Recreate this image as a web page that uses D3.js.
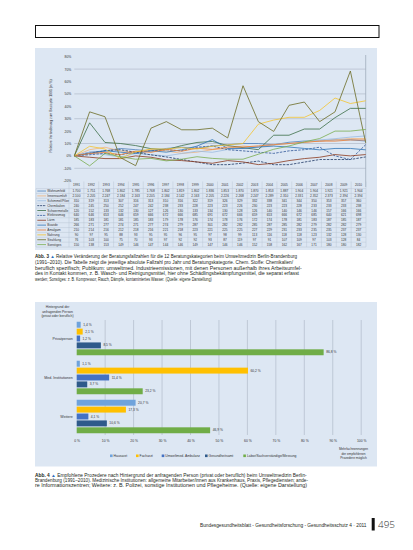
<!DOCTYPE html>
<html>
<head>
<meta charset="utf-8">
<script src="https://cdn.jsdelivr.net/npm/d3@7"></script>
<style>
  body { margin: 0; background: #fff; }
  svg { display: block; font-family: "Liberation Sans Narrow", "Liberation Sans", Arial, sans-serif; }
</style>
</head>
<body>
<script>
// ---- data: Abb. 3 (Fallzahlen je Beratungskategorie und Jahr)
const years = [1991, 1992, 1993, 1994, 1995, 1996, 1997, 1998, 1999, 2000,
               2001, 2002, 2003, 2004, 2005, 2006, 2007, 2008, 2009, 2010];

const categories = ['Wohnumfeld', 'Innenraumluft', 'Schimmel/Pilze', 'Chemikalien', 'Schwermetalle', 'Elektrosmog',
                    'Lärm', 'Biozide', 'Amalgam', 'Nahrung', 'Strahlung', 'Sonstiges'];

const wohnumfeld   = [1700, 1751, 1768, 1802, 1785, 1768, 1802, 1819, 1802, 1836, 1853, 1870, 1870, 1853, 1887, 1904, 1904, 1921, 1921, 1904];
const innenraum    = [2100, 2205, 2247, 2184, 2163, 2205, 2184, 2142, 2163, 2205, 2226, 2268, 2247, 2289, 2310, 2331, 2352, 2373, 2394, 2394];
const schimmel     = [310, 319, 313, 307, 316, 313, 310, 316, 322, 319, 326, 329, 332, 338, 341, 344, 350, 353, 357, 360];
const chemikalien  = [240, 245, 250, 252, 247, 242, 238, 233, 228, 223, 223, 226, 230, 223, 223, 228, 233, 233, 233, 238];
const schwermetall = [120, 152, 133, 132, 130, 127, 126, 130, 133, 134, 130, 128, 126, 140, 140, 146, 146, 157, 166, 166];
const elektrosmog  = [640, 646, 653, 646, 659, 666, 672, 666, 685, 691, 672, 666, 659, 653, 666, 672, 685, 640, 621, 698];
const laerm        = [185, 183, 181, 181, 185, 183, 179, 178, 176, 174, 178, 176, 172, 174, 178, 181, 183, 187, 185, 187];
const biozide      = [266, 271, 277, 274, 271, 277, 274, 279, 287, 301, 282, 282, 285, 287, 285, 282, 279, 282, 282, 279];
const amalgam      = [210, 214, 216, 212, 218, 216, 221, 218, 223, 221, 225, 225, 227, 229, 231, 233, 235, 235, 237, 237];
const nahrung      = [90, 97, 95, 88, 93, 95, 95, 96, 95, 97, 98, 99, 113, 116, 118, 118, 123, 132, 128, 130];
const strahlung    = [76, 103, 100, 75, 70, 93, 97, 92, 92, 93, 87, 119, 97, 91, 107, 109, 97, 103, 128, 84];
const sonstiges    = [150, 138, 153, 149, 146, 147, 144, 146, 149, 147, 146, 146, 152, 158, 162, 167, 171, 180, 180, 182];

const counts = [wohnumfeld, innenraum, schimmel, chemikalien, schwermetall, elektrosmog,
                laerm, biozide, amalgam, nahrung, strahlung, sonstiges];
const lineColors = ['#4f81bd', '#f0b47c', '#9bbbe0', '#1f3864', '#3c6e47', '#2f5597',
                    '#8b3a1e', '#2e75b6', '#ed7d31', '#f4c430', '#6b6b23', '#7aad4f'];
const dashed = [false, false, false, true, false, true, false, false, false, false, false, false];

const yTicks = [-20, -10, 0, 10, 20, 30, 40, 50, 60, 70, 80];
const yGrid = [-10, 10, 30, 50, 70];

// ---- data: Abb. 4 (empfohlenes Prozedere nach Hintergrund)
const groups = ['Privatperson', 'Med. Institutionen', 'Weitere'];
const procedures = ['Hausarzt', 'Facharzt', 'Umweltmed. Ambulanz', 'Gesundheitsamt', 'Labor/Sachverständige/Messung'];
const hausarzt   = [1.4, 1.1, 20.7];
const facharzt   = [2.1, 60.2, 17.3];
const ambulanz   = [1.2, 11.4, 4.1];
const gesundamt  = [8.5, 3.7, 10.6];
const labor      = [86.8, 23.2, 46.9];
const procValues = [hausarzt, facharzt, ambulanz, gesundamt, labor];
const barColors = ['#6fa3dc', '#ffc000', '#4472c4', '#2e5a8a', '#70ad47'];
const xTicks = [0, 10, 20, 30, 40, 50, 60, 70, 80, 90, 100];

const caption3 = [
  'Relative Veränderung der Beratungsfallzahlen für die 12 Beratungskategorien beim Umweltmedizin Berlin-Brandenburg',
  '(1991–2010). Die Tabelle zeigt die jeweilige absolute Fallzahl pro Jahr und Beratungskategorie. Chem. Stoffe: Chemikalien/',
  'beruflich spezifisch; Publikum: umweltmed. Industrieemissionen, mit denen Personen außerhalb ihres Arbeitsumfel-',
  'des in Kontakt kommen, z. B. Wasch- und Reinigungsmittel, hier ohne Schädlingsbekämpfungsmittel, die separat erfasst',
  'werden; Sonstiges: z. B. Kompressor, Rauch, Dämpfe, kontaminiertes Wasser. (Quelle: eigene Darstellung)'
];
const caption4 = [
  'Empfohlene Prozedere nach Hintergrund der anfragenden Person (privat oder beruflich) beim Umweltmedizin Berlin-',
  'Brandenburg (1991–2010). Medizinische Institutionen: allgemeine Mitarbeiter/innen aus Krankenhaus, Praxis, Pflegediensten; ande-',
  're Informationszentren; Weitere: z. B. Polizei, sonstige Institutionen und Pflegeheime. (Quelle: eigene Darstellung)'
];

const de = d3.formatLocale({ decimal: ',', thousands: '.', grouping: [3], currency: ['', ' €'] });
const fmtInt = de.format(',d');
const fmtPct = de.format('.1f');

const W = 413, H = 550;
const svg = d3.select('body').append('svg').attr('width', W).attr('height', H);

// kopfzeilen-box
svg.append('rect')
  .attr('x', 35.5).attr('y', 25.5).attr('width', 343.5).attr('height', 12)
  .attr('fill', 'none').attr('stroke', '#111').attr('stroke-width', 1);

// =================== Abb. 3 ===================
svg.append('rect').attr('x', 35).attr('y', 48).attr('width', 342).attr('height', 202).attr('fill', '#dde7f3');

const x = d3.scalePoint().domain(years).range([74.3, 365.7]);
const y = d3.scaleLinear().domain([-20, 80]).range([180.7, 56.7]);

svg.append('g').selectAll('line').data(yGrid).join('line')
  .attr('x1', 74.3).attr('x2', 365.7)
  .attr('y1', d => y(d)).attr('y2', d => y(d))
  .attr('stroke', '#a9b4c2').attr('stroke-width', 0.6);

svg.append('line')
  .attr('x1', 365.7).attr('x2', 365.7).attr('y1', 55).attr('y2', 187)
  .attr('stroke', '#9aa5b4').attr('stroke-width', 0.7);

const yAxis = svg.append('g')
  .attr('transform', 'translate(74.3,0)')
  .call(d3.axisLeft(y).tickValues(yTicks).tickSize(0).tickPadding(3).tickFormat(d => d + '%'));
yAxis.select('.domain').remove();
yAxis.selectAll('text').attr('font-size', 3.4).attr('fill', '#333').attr('font-family', null);

svg.append('text')
  .attr('transform', 'translate(51.5,116) rotate(-90)')
  .attr('text-anchor', 'middle').attr('font-size', 3.4).attr('fill', '#333')
  .text('Relative Veränderung zum Basisjahr 1991 (in %)');

const line = d3.line().x((d, i) => x(years[i])).y(d => y(d));
counts.forEach((c, k) => {
  const rel = c.map(v => (v / c[0] - 1) * 100);
  svg.append('path')
    .datum(rel)
    .attr('d', line)
    .attr('fill', 'none')
    .attr('stroke', lineColors[k])
    .attr('stroke-width', 0.8)
    .attr('stroke-dasharray', dashed[k] ? '2.5,1.2' : null);
});

// datentabelle
const col = d3.scaleBand().domain(years).range([69, 366]);
const rowH = 4.87, headTop = 181.5, rowTop = 188.6;
const tbl = svg.append('g').attr('font-size', 3.2).attr('fill', '#333');

tbl.selectAll('text.yr').data(years).join('text')
  .attr('class', 'yr')
  .attr('x', d => col(d) + col.bandwidth() / 2).attr('y', 186.3)
  .attr('text-anchor', 'middle').text(d => d);

const gridColor = '#b3bfd0';
tbl.append('g').selectAll('line').data(d3.range(13)).join('line')
  .attr('x1', 36).attr('x2', 366)
  .attr('y1', i => rowTop + i * rowH).attr('y2', i => rowTop + i * rowH)
  .attr('stroke', gridColor).attr('stroke-width', 0.4);
tbl.append('g').selectAll('line').data(years.concat(['end'])).join('line')
  .attr('x1', d => d === 'end' ? 366 : col(d)).attr('x2', d => d === 'end' ? 366 : col(d))
  .attr('y1', headTop).attr('y2', rowTop + 12 * rowH)
  .attr('stroke', gridColor).attr('stroke-width', 0.4);
tbl.append('line')
  .attr('x1', 36).attr('x2', 36).attr('y1', rowTop).attr('y2', rowTop + 12 * rowH)
  .attr('stroke', gridColor).attr('stroke-width', 0.4);

categories.forEach((name, k) => {
  const cy = rowTop + k * rowH + rowH / 2;
  tbl.append('line')
    .attr('x1', 37.3).attr('x2', 46).attr('y1', cy).attr('y2', cy)
    .attr('stroke', lineColors[k]).attr('stroke-width', 0.8)
    .attr('stroke-dasharray', dashed[k] ? '2,0.8' : null);
  tbl.append('text').attr('x', 47.3).attr('y', cy + 1.1).text(name);
  tbl.append('g').selectAll('text').data(counts[k]).join('text')
    .attr('x', (d, i) => col(years[i]) + col.bandwidth() / 2)
    .attr('y', cy + 1.1)
    .attr('text-anchor', 'middle')
    .text(d => fmtInt(d));
});

// bildunterschrift 3
function caption(lines, num, top, step, widths) {
  const g = svg.append('g').attr('font-size', 4.5).attr('fill', '#231f20');
  lines.forEach((t, i) => {
    const tx = g.append('text').attr('x', 35).attr('y', top + i * step + 1.6)
      .attr('textLength', widths[i]).attr('lengthAdjust', 'spacingAndGlyphs');
    if (i === 0) {
      tx.append('tspan').attr('font-weight', 'bold').text('Abb. ' + num + ' ');
      tx.append('tspan').attr('fill', '#2a6ebb').text('▲ ');
    }
    tx.append('tspan').text(t);
  });
}
caption(caption3, 3, 256.7, 5.67, [262, 258, 266.7, 264, 176.7]);

// =================== Abb. 4 ===================
svg.append('rect').attr('x', 35).attr('y', 302).attr('width', 342).attr('height', 164.5).attr('fill', '#dde7f3');

const bx = d3.scaleLinear().domain([0, 100]).range([76.7, 361.2]);
const gy = d3.scaleBand().domain(groups).range([319, 436]);
const sy = d3.scaleBand().domain(procedures).range([-16.75, 16.75]).paddingInner(0.14);

svg.append('g').selectAll('line').data(xTicks.filter(d => d > 0)).join('line')
  .attr('x1', d => bx(d)).attr('x2', d => bx(d)).attr('y1', 320).attr('y2', 435)
  .attr('stroke', '#a9b4c2').attr('stroke-width', 0.6);

const xAxis = svg.append('g')
  .attr('transform', 'translate(0,436)')
  .call(d3.axisBottom(bx).tickValues(xTicks).tickSize(0).tickPadding(3.5).tickFormat(d => d + ' %'));
xAxis.select('.domain').remove();
xAxis.selectAll('text').attr('font-size', 3.4).attr('fill', '#333').attr('font-family', null);

const barsG = svg.append('g');
procedures.forEach((p, k) => {
  procValues[k].forEach((v, gi) => {
    const yy = gy(groups[gi]) + gy.bandwidth() / 2 + sy(p);
    barsG.append('rect')
      .attr('x', bx(0)).attr('y', yy)
      .attr('width', bx(v) - bx(0)).attr('height', sy.bandwidth())
      .attr('fill', barColors[k]);
    barsG.append('text')
      .attr('x', bx(v) + 2.5).attr('y', yy + sy.bandwidth() / 2 + 1.1)
      .attr('font-size', 3.3).attr('fill', '#333')
      .text(fmtPct(v) + ' %');
  });
});

svg.append('g').selectAll('text').data(groups).join('text')
  .attr('x', 72.7).attr('y', d => gy(d) + gy.bandwidth() / 2 + 1.2)
  .attr('text-anchor', 'end').attr('font-size', 3.6).attr('fill', '#333')
  .text(d => d);

svg.append('g').attr('font-size', 3.4).attr('fill', '#333').attr('text-anchor', 'middle')
  .selectAll('text').data(['Hintergrund der', 'anfragenden Person', '(privat oder beruflich)']).join('text')
  .attr('x', 57.5).attr('y', (d, i) => 308.3 + i * 4.4).text(d => d);

// legende
const legX = [110, 136, 161.7, 205, 243.3];
const leg = svg.append('g').attr('font-size', 3.4).attr('fill', '#333');
procedures.forEach((p, k) => {
  leg.append('rect').attr('x', legX[k]).attr('y', 454.5).attr('width', 2.6).attr('height', 2.6).attr('fill', barColors[k]);
  leg.append('text').attr('x', legX[k] + 3.6).attr('y', 457.1).text(p);
});
svg.append('g').attr('font-size', 3.2).attr('fill', '#333').attr('text-anchor', 'middle')
  .selectAll('text').data(['Mehrfachnennungen', 'der empfohlenen', 'Prozedere möglich']).join('text')
  .attr('x', 353.5).attr('y', (d, i) => 450.2 + i * 4.3).text(d => d);

caption(caption4, 4, 475, 5.4, [271.7, 273, 272]);

// fusszeile
svg.append('text')
  .attr('x', 200).attr('y', 526.6).attr('font-size', 4.6).attr('fill', '#231f20')
  .attr('textLength', 166.5).attr('lengthAdjust', 'spacingAndGlyphs')
  .text('Bundesgesundheitsblatt - Gesundheitsforschung - Gesundheitsschutz 4 · 2011');
svg.append('rect').attr('x', 371.7).attr('y', 518).attr('width', 3).attr('height', 12.5).attr('fill', '#111');
svg.append('text')
  .attr('x', 378).attr('y', 528.3).attr('font-size', 8.5).attr('fill', '#333')
  .attr('font-family', '"Open Sans", sans-serif').attr('font-weight', 300)
  .attr('textLength', 17).attr('lengthAdjust', 'spacingAndGlyphs')
  .text('495');
</script>
</body>
</html>
